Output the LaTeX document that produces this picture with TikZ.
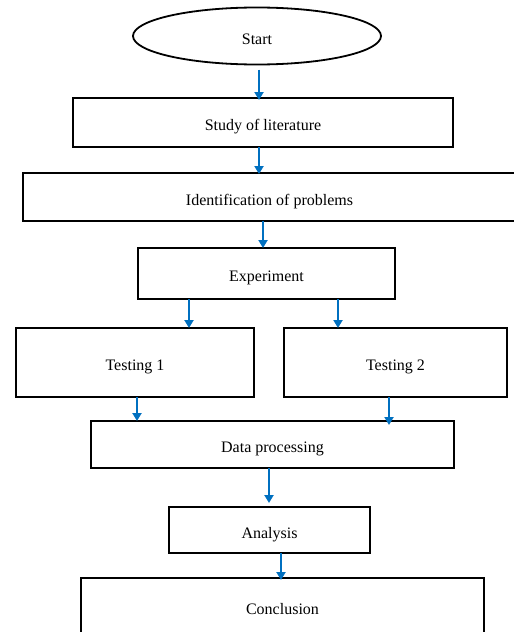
\documentclass[tikz,border=0pt]{standalone}
\usepackage{fontspec}
\setmainfont{Liberation Serif}
\usetikzlibrary{arrows.meta,shapes.geometric}
\definecolor{arrblue}{RGB}{0,112,192}
\begin{document}
\begin{tikzpicture}[x=1pt,y=-1pt,
  box/.style={draw=black,line width=1.8pt,rectangle,inner sep=0pt,outer sep=0pt,text height=16pt,text depth=0pt,font=\fontsize{16}{18}\selectfont},
  oval/.style={draw=black,line width=1.8pt,ellipse,inner sep=0pt,outer sep=0pt,text height=16pt,text depth=0pt,font=\fontsize{16}{18}\selectfont},
  arr/.style={draw=arrblue,line width=2pt,-{Triangle[length=8pt,width=9pt]}}]
\useasboundingbox[fill=white] (0,0) rectangle (514,632);
% nodes
\node[oval,minimum width=248pt,minimum height=57pt] (start) at (257,36) {Start};
\node[box,minimum width=380pt,minimum height=49pt] (study) at (263,122.5) {Study of literature};
\node[box,minimum width=493pt,minimum height=48pt] (ident) at (269.5,197) {Identification of problems};
\node[box,minimum width=257pt,minimum height=51pt] (exp) at (266.5,273.5) {Experiment};
\node[box,minimum width=238pt,minimum height=69pt] (t1) at (135,362.5) {Testing 1};
\node[box,minimum width=223pt,minimum height=69pt] (t2) at (395.5,362.5) {Testing 2};
\node[box,minimum width=363pt,minimum height=47pt] (data) at (272.5,444.5) {Data processing};
\node[box,minimum width=201pt,minimum height=46pt] (ana) at (269.5,530) {Analysis};
\node[box,minimum width=403pt,minimum height=56pt] (conc) at (282.5,606) {Conclusion};
% arrow columns
\coordinate (ca) at (259,0);
\coordinate (cb) at (263,0);
\coordinate (cc) at (189,0);
\coordinate (cd) at (338,0);
\coordinate (ce) at (137,0);
\coordinate (cf) at (389,0);
\coordinate (cg) at (269,0);
\coordinate (ch) at (281,0);
% connectors
\draw[arr,shorten <=5pt,shorten >=-2pt] (start.south -| ca) -- (study.north -| ca);
\draw[arr,shorten >=-1pt] (study.south -| ca) -- (ident.north -| ca);
\draw[arr] (ident.south -| cb) -- (exp.north -| cb);
\draw[arr] (exp.south -| cc) -- (t1.north -| cc);
\draw[arr] (exp.south -| cd) -- (t2.north -| cd);
\draw[arr] (t1.south -| ce) -- (data.north -| ce);
\draw[arr,shorten >=-4pt] (t2.south -| cf) -- (data.north -| cf);
\draw[arr,shorten >=4pt] (data.south -| cg) -- (ana.north -| cg);
\draw[arr,shorten >=-2pt] (ana.south -| ch) -- (conc.north -| ch);
\end{tikzpicture}
\end{document}
